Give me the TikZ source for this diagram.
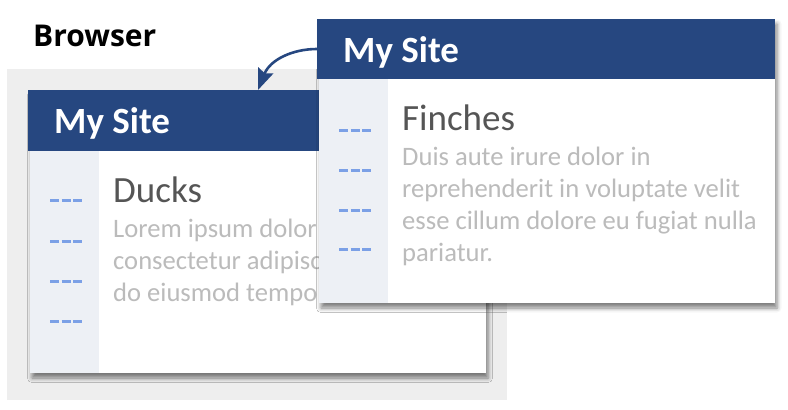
\documentclass[tikz,border=0pt]{standalone}
\usepackage{fontspec}
\setmainfont{Carlito}
\newfontfamily\captionfont{Open Sans}
\usetikzlibrary{shadows.blur,arrows.meta}
\definecolor{hdrblue}{HTML}{264780}
\definecolor{sidebg}{HTML}{EDF0F5}
\definecolor{dashblue}{HTML}{7BA0E6}
\definecolor{pagebg}{HTML}{EEEEEE}
\definecolor{titlegray}{HTML}{555555}
\definecolor{bodygray}{HTML}{BBBBBB}

\begin{document}
\begin{tikzpicture}[x=1pt,y=-1pt,
  box/.style={inner sep=0pt, outer sep=0pt, anchor=north west, draw=none},
  winframe/.style={box, fill=white,
    blur shadow={shadow xshift=2pt, shadow yshift=-5pt,
                 shadow blur radius=4.5pt, shadow opacity=50}},
  sidebar/.style={box, fill=sidebg},
  header/.style={box, fill=hdrblue},
  sitename/.style={anchor=base west, inner sep=0pt, text=white,
                   font=\bfseries\fontsize{37}{37}\selectfont},
  pagetitle/.style={anchor=base west, inner sep=0pt, text=titlegray,
                    font=\fontsize{37}{37}\selectfont},
  bodyline/.style={anchor=base west, inner sep=0pt, text=bodygray,
                   font=\fontsize{26.6}{32}\selectfont},
  navdash/.style={draw=dashblue, line width=3pt, dash pattern=on 9pt off 2.5pt},
  jump/.style={draw=hdrblue, line width=2.6pt,
               -{Stealth[length=21pt, width=16pt, inset=3pt]}},
]
\useasboundingbox (0,0) rectangle (788,410);

% browser label and viewport
\node[anchor=base west, inner sep=0pt, font=\captionfont\bfseries\fontsize{30}{30}\selectfont]
  (browser) at (33,46) {Browser};
\node[box, fill=pagebg, minimum width=500pt, minimum height=331pt] (viewport) at (7,69) {};

% page shown in the browser
\node[winframe, minimum width=456pt, minimum height=283pt] (lwin) at (30,90) {};
\node[sidebar, minimum width=69pt, minimum height=222pt] (lside) at (30,151) {};
\node[header, minimum width=458pt, minimum height=61pt] (lhead) at (28,90) {};
\node[sitename] (lname) at (54,133) {My Site};
\foreach \y in {200,241,281,321} \draw[navdash] (50,\y) -- (82,\y);
\node[pagetitle] (ltitle) at (113,202) {Ducks};
\node[bodyline] (l1) at (113,237) {Lorem ipsum dolor};
\node[bodyline] (l2) at (113,269) {consectetur adipisc};
\node[bodyline] (l3) at (113,301) {do eiusmod tempo};

% next page, laid over the first
\node[winframe, minimum width=456pt, minimum height=284pt] (rwin) at (319,19) {};
\node[sidebar, minimum width=69pt, minimum height=224pt] (rside) at (319,79) {};
\node[header, minimum width=458pt, minimum height=60pt] (rhead) at (317,19) {};
\node[sitename] (rname) at (343,62) {My Site};
\foreach \y in {130,170,210,249} \draw[navdash] (339,\y) -- (371,\y);
\node[pagetitle] (rtitle) at (402,130) {Finches};
\node[bodyline] (r1) at (402,165) {Duis aute irure dolor in};
\node[bodyline] (r2) at (402,197) {reprehenderit in voluptate velit};
\node[bodyline] (r3) at (402,229) {esse cillum dolore eu fugiat nulla};
\node[bodyline] (r4) at (402,261) {pariatur.};

% navigation arrow
\coordinate (landing) at (258,90);
\draw[jump] (rhead.west) .. controls (292,49) and (270,60) .. (landing);
\end{tikzpicture}
\end{document}
